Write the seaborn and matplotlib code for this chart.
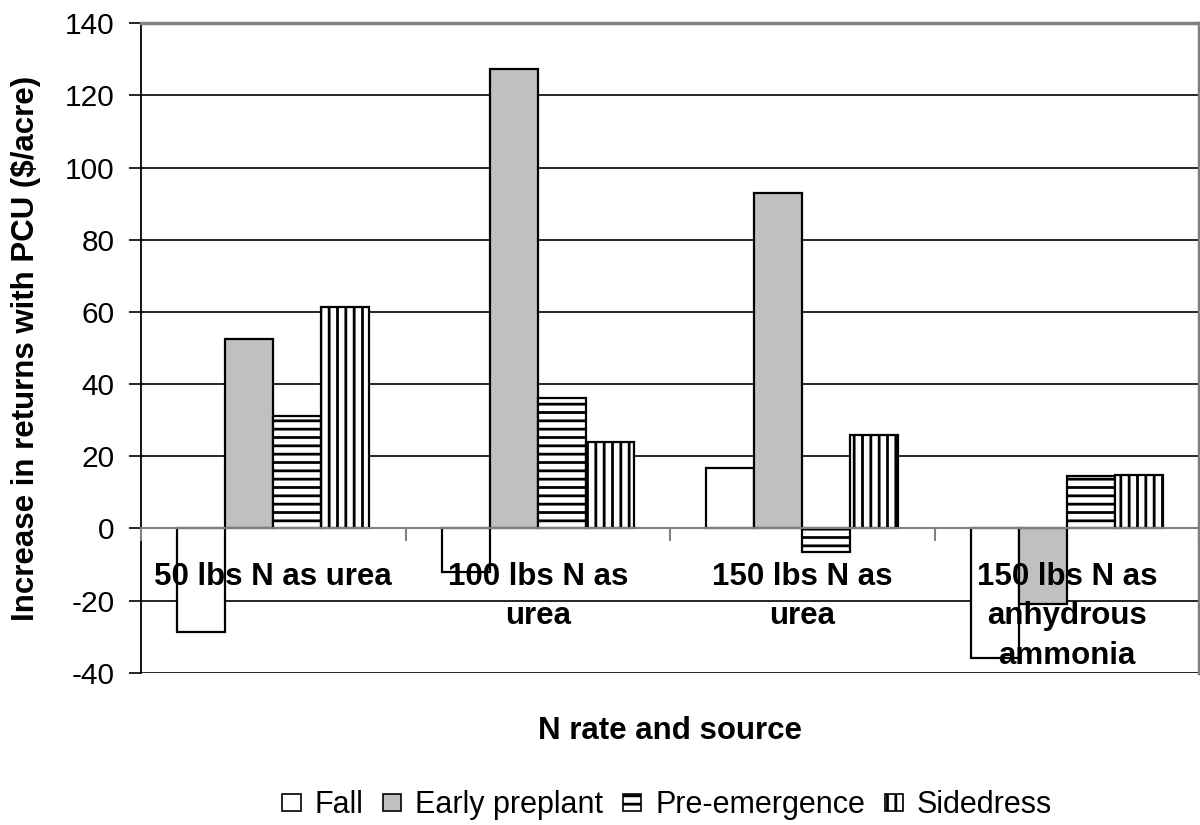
import matplotlib
matplotlib.use("Agg")
import matplotlib.pyplot as plt
from matplotlib.patches import Patch
import seaborn as sns
import pandas as pd

groups = ["50 lbs N as urea", "100 lbs N as\nurea", "150 lbs N as\nurea",
          "150 lbs N as\nanhydrous\nammonia"]
timings = ["Fall", "Early preplant", "Pre-emergence", "Sidedress"]
fall = [-28.7, -12.1, 16.6, -36.0]
early_preplant = [52.5, 127.3, 93.0, -21.0]
pre_emergence = [31.1, 36.0, -6.6, 14.5]
sidedress = [61.3, 23.9, 26.0, 14.9]
yticks = [-40, -20, 0, 20, 40, 60, 80, 100, 120, 140]

series = [fall, early_preplant, pre_emergence, sidedress]
rows = []
for t, vals in zip(timings, series):
    for g, v in zip(groups, vals):
        rows.append({"group": g, "timing": t, "value": v})
df = pd.DataFrame(rows)

sns.set_theme(style="white")
plt.rcParams["font.family"] = ["Liberation Sans", "DejaVu Sans"]
plt.rcParams["hatch.linewidth"] = 2.0
plt.rcParams["hatch.color"] = "black"
plt.rcParams["text.color"] = "black"
plt.rcParams["axes.labelcolor"] = "black"
plt.rcParams["xtick.color"] = "black"
plt.rcParams["ytick.color"] = "black"

facecolors = ["white", "#C0C0C0", "white", "white"]
hatches = ["", "", "--", "||"]

fig = plt.figure(figsize=(12, 8.25), dpi=100)
ax = fig.add_axes([0.1175, 0.1846, 0.8817, 0.7872])

sns.barplot(data=df, x="group", y="value", hue="timing", order=groups,
            hue_order=timings, palette=facecolors, edgecolor="black",
            linewidth=1.6, width=0.727, saturation=1, legend=False, ax=ax,
            zorder=3)

for cont, fc, h in zip(ax.containers, facecolors, hatches):
    for bar in cont:
        bar.set_facecolor(fc)
        bar.set_hatch(h)
        bar.set_edgecolor("black")

ax.set_ylim(-40, 140)
ax.set_xlim(-0.5, 3.5)
ax.set_yticks(yticks)
ax.set_yticklabels([str(v) for v in yticks], fontsize=21.5, color="black")
ax.yaxis.grid(True, color="black", linewidth=1.2)
ax.set_axisbelow(True)

# spines
ax.spines["left"].set_color("black")
ax.spines["left"].set_linewidth(1.3)
for s in ["top", "right"]:
    ax.spines[s].set_color("#808080")
    ax.spines[s].set_linewidth(2.5)
ax.spines["bottom"].set_position(("data", 0))
ax.spines["bottom"].set_color("#808080")
ax.spines["bottom"].set_linewidth(1.5)
ax.spines["bottom"].set_zorder(4)

ax.tick_params(axis="y", which="major", direction="out", length=9, width=1.2,
               color="black", pad=10, left=True)
ax.set_xticks(range(len(groups)))
ax.set_xticklabels(groups, fontsize=22.5, fontweight="bold", linespacing=1.42,
                   color="black")
ax.tick_params(axis="x", which="major", length=0, pad=24, bottom=True)
ax.set_xticks([i - 0.5 for i in range(len(groups) + 1)], minor=True)
ax.tick_params(axis="x", which="minor", direction="out", length=9, width=1.5,
               color="#808080", bottom=True)
ax.xaxis.set_zorder(5)

ax.set_xlabel("N rate and source", fontsize=22.5, fontweight="bold",
              color="black")
ax.xaxis.set_label_coords(0.5, -0.089)
ax.xaxis.label.set_verticalalignment("center")
ax.set_ylabel("Increase in returns with PCU ($/acre)", fontsize=22.5,
              fontweight="bold", color="black")
ax.yaxis.set_label_coords(-0.109, 0.5)
ax.yaxis.label.set_verticalalignment("center")

handles = [Patch(facecolor=fc, edgecolor="black", hatch=h, linewidth=1.2,
                 label=t) for fc, h, t in zip(facecolors, hatches, timings)]
fig.legend(handles=handles, loc="center", bbox_to_anchor=(0.556, 0.024),
           ncol=4, frameon=False, fontsize=22, handlelength=0.6,
           handleheight=0.45, handletextpad=0.45, columnspacing=0.65,
           labelcolor="black")

fig.savefig("out.png", dpi=100)
